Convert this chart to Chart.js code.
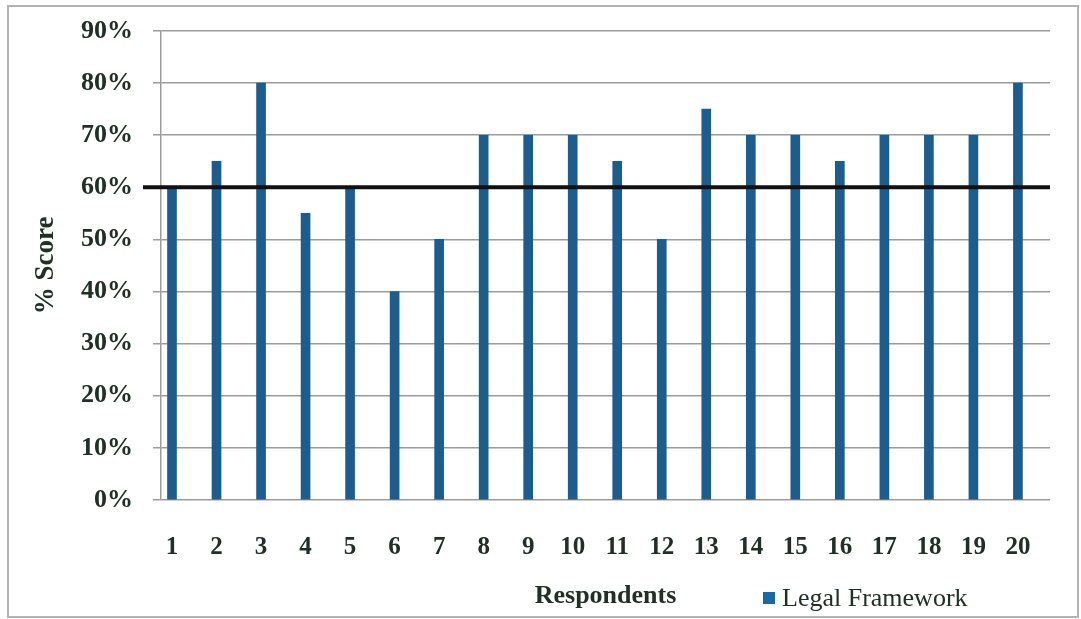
<!DOCTYPE html>
<html>
<head>
<meta charset="utf-8">
<script src="https://cdn.jsdelivr.net/npm/chart.js@4.4.1/dist/chart.umd.min.js"></script>
<style>
  html, body { margin: 0; padding: 0; background: #ffffff; }
  #wrap { position: relative; width: 1081px; height: 619px; }
</style>
</head>
<body>
<div id="wrap"><canvas id="chart"></canvas></div>
<script>
// Respondent numbers and their Legal Framework scores (%)
const respondents = [1, 2, 3, 4, 5, 6, 7, 8, 9, 10, 11, 12, 13, 14, 15, 16, 17, 18, 19, 20];
const legalFramework = [60, 65, 80, 55, 60, 40, 50, 70, 70, 70, 65, 50, 75, 70, 70, 65, 70, 70, 70, 80];
const yTicks = [0, 10, 20, 30, 40, 50, 60, 70, 80, 90];
const passMark = [60];

const serif = '"Liberation Serif", "Times New Roman", serif';
const textColor = '#203025';
const barColor = '#1c5d8e';

// Outer frame around the figure
const framePlugin = {
  id: 'frame',
  beforeDraw(chart) {
    const ctx = chart.ctx;
    ctx.save();
    ctx.strokeStyle = '#b3b3b3';
    ctx.lineWidth = 2;
    ctx.strokeRect(8, 6, 1070, 611);
    ctx.restore();
  }
};

// Heavy horizontal line at the pass mark, drawn over the bars
const passLinePlugin = {
  id: 'passLine',
  afterDatasetsDraw(chart) {
    const { ctx, chartArea, scales } = chart;
    const y = scales.y.getPixelForValue(passMark[0]);
    ctx.save();
    ctx.strokeStyle = '#111111';
    ctx.lineWidth = 4;
    ctx.beginPath();
    ctx.moveTo(chartArea.left - 18, y);
    ctx.lineTo(chartArea.right, y);
    ctx.stroke();
    ctx.restore();
  }
};

// Legend sitting on the same row as the x-axis title
const sideLegendPlugin = {
  id: 'sideLegend',
  afterDraw(chart) {
    const ctx = chart.ctx;
    const ds = chart.data.datasets[0];
    const x = 763, y = 598;
    ctx.save();
    ctx.fillStyle = '#1a68a4';
    ctx.fillRect(x, y - 6, 12, 12);
    ctx.fillStyle = textColor;
    ctx.font = '26px ' + serif;
    ctx.textBaseline = 'middle';
    ctx.textAlign = 'left';
    ctx.fillText(ds.label, x + 19, y + 1);
    ctx.restore();
  }
};

new Chart(document.getElementById('chart'), {
  type: 'bar',
  data: {
    datasets: [{
      label: 'Legal Framework',
      data: respondents.map((r, i) => ({ x: r, y: legalFramework[i] })),
      backgroundColor: barColor,
      borderWidth: 0,
      barThickness: 9
    }]
  },
  options: {
    responsive: true,
    maintainAspectRatio: false,
    animation: false,
    layout: { padding: { top: 31, right: 31, bottom: 0, left: 0 } },
    plugins: {
      legend: { display: false },
      tooltip: { enabled: false }
    },
    scales: {
      x: {
        type: 'linear',
        offset: false,
        min: 0.753,
        max: 20.72,
        afterBuildTicks(scale) {
          scale.ticks = respondents.map(v => ({ value: v }));
        },
        afterFit(scale) {
          scale.height = 119;
          scale.paddingLeft = 0;
          scale.paddingRight = 0;
        },
        grid: { display: false, offset: false },
        border: { display: false },
        ticks: {
          autoSkip: false,
          maxRotation: 0,
          padding: 25,
          color: textColor,
          font: { family: serif, size: 25, weight: 'bold' },
          callback: v => String(v)
        },
        title: {
          display: true,
          text: 'Respondents',
          color: textColor,
          font: { family: serif, size: 26, weight: 'bold' },
          padding: { top: 0, bottom: 7 }
        }
      },
      y: {
        min: 0,
        max: 90,
        afterBuildTicks(scale) {
          scale.ticks = yTicks.map(v => ({ value: v }));
        },
        afterFit(scale) {
          scale.width = 161;
          scale.paddingTop = 0;
          scale.paddingBottom = 0;
        },
        grid: {
          color: '#9c9c9c',
          lineWidth: 1.5,
          drawTicks: true,
          tickLength: 8,
          tickColor: '#9c9c9c'
        },
        border: { display: true, color: '#9c9c9c', width: 1.5 },
        ticks: {
          padding: 20,
          color: textColor,
          font: { family: serif, size: 26, weight: 'bold' },
          callback: v => v + '%'
        },
        title: {
          display: true,
          text: '% Score',
          color: textColor,
          font: { family: serif, size: 27, weight: 'bold' },
          padding: { top: 30, bottom: 0 }
        }
      }
    }
  },
  plugins: [framePlugin, passLinePlugin, sideLegendPlugin]
});
</script>
</body>
</html>
